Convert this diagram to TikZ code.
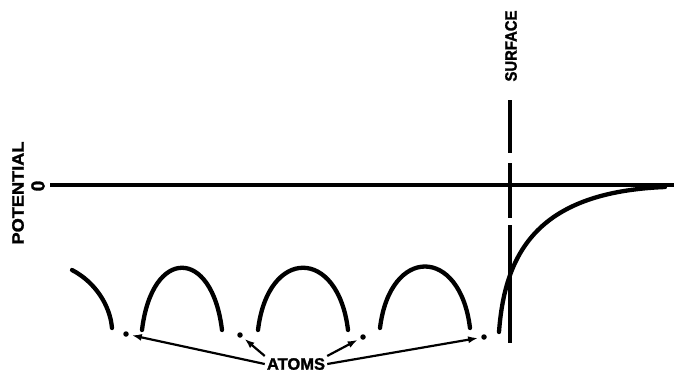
\documentclass[tikz,border=0pt]{standalone}
\usepackage{fontspec}
\setmainfont{Liberation Sans}
\newfontfamily\heavy[FakeBold=1.6]{Liberation Sans Bold}
\usetikzlibrary{arrows.meta,positioning}

\begin{document}
\begin{tikzpicture}[x=1pt,y=-1pt,
  lbl/.style={font=\heavy\fontsize{16.5}{16.5}\selectfont,inner sep=1pt},
  curve/.style={line width=4.3pt,line cap=round},
  atom/.style={circle,fill=black,inner sep=0pt,minimum size=5.5pt},
  ptr/.style={-{Latex[length=10pt,width=7pt]},line width=2.2pt,shorten >=3pt}]
\useasboundingbox (0,0) rectangle (674,373);
% axis and labels
\node[lbl,rotate=90] (pot) at (18,193) {\scalebox{1.1}[1]{POTENTIAL}};
\node[lbl,rotate=90,font=\heavy\fontsize{19}{19}\selectfont] (zero) at (38,186) {0};
\coordinate (z0) at (50,185);
\coordinate (z1) at (674,185);
\draw[line width=3.4pt] (z0) -- (z1);
% surface
\node[lbl,rotate=90] (surf) at (511,46) {\scalebox{0.9}[1]{SURFACE}};
\draw[line width=3.4pt] (510,100) -- (510,153) (510,163) -- (510,218) (510,225) -- (510,343);
\draw[curve] (499,332) .. controls (505,250) and (540,192) .. (665,187);
% potential humps between atoms
\draw[curve] (72,270) .. controls (95,282) and (110,305) .. (112,328);
\draw[curve] (142,330) .. controls (152,247) and (212,247) .. (222,330);
\draw[curve] (258,330) .. controls (268,247) and (338,247) .. (348,330);
\draw[curve] (380,328) .. controls (390,246) and (460,246) .. (470,328);
% atoms
\node[atom] (a1) at (126,334) {};
\node[atom] (a2) at (240,335) {};
\node[atom] (a3) at (363,337) {};
\node[atom] (a4) at (484,337) {};
\node[lbl,inner sep=2pt] (atoms) at (296,364) {ATOMS};
\draw[ptr] (atoms.west) -- (a1);
\draw[ptr] (atoms.north west) -- (a2);
\draw[ptr] (atoms.north east) -- (a3);
\draw[ptr] (atoms.east) -- (a4);
\end{tikzpicture}
\end{document}
